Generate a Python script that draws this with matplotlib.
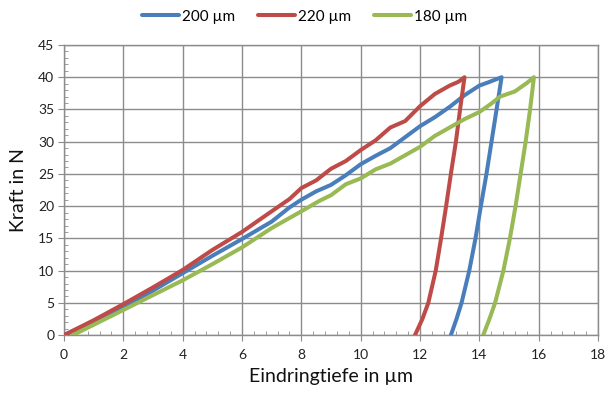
import matplotlib
matplotlib.use("Agg")
import matplotlib.pyplot as plt
from matplotlib.ticker import MultipleLocator

plt.rcParams['font.family'] = ['Lato', 'DejaVu Sans']

labels = ["200 µm", "220 µm", "180 µm"]
colors = ["#4a7ebb", "#be4b48", "#98b954"]

# 200 µm: loading then unloading
x_200 = [0, 1, 2, 3, 4, 5, 6, 7, 7.6, 8.0, 8.5, 9.0, 9.5, 10.0, 10.5, 11.0,
         11.5, 12.0, 12.5, 13.0, 13.5, 14.0, 14.3, 14.75,
         14.58, 14.41, 14.24, 14.05, 13.87, 13.66, 13.40, 13.23, 13.04]
y_200 = [0, 2.1, 4.4, 6.9, 9.6, 12.3, 14.9, 17.6, 19.8, 21.0, 22.3, 23.3, 24.8,
         26.5, 27.8, 29.0, 30.7, 32.4, 33.8, 35.4, 37.2, 38.7, 39.2, 40.0,
         35, 30, 25, 20, 15, 10, 5, 2.5, 0]

# 220 µm
x_220 = [0, 1, 2, 3, 4, 5, 6, 7, 7.6, 8.0, 8.5, 9.0, 9.5, 10.0, 10.5, 11.0,
         11.5, 12.0, 12.5, 13.0, 13.3, 13.5,
         13.35, 13.21, 13.04, 12.88, 12.71, 12.53, 12.28, 12.08, 11.83]
y_220 = [0, 2.3, 4.8, 7.4, 10.1, 13.2, 16.0, 19.2, 21.1, 22.8, 24.0, 25.8,
         27.0, 28.7, 30.2, 32.2, 33.2, 35.5, 37.4, 38.7, 39.3, 40.0,
         35, 30, 25, 20, 15, 10, 5, 2.5, 0]

# 180 µm
x_180 = [0.3, 1, 2, 3, 4, 5, 6, 7, 8.0, 8.6, 9.0, 9.5, 10.0, 10.5, 11.0, 11.5,
         12.0, 12.5, 13.0, 13.5, 14.0, 14.4, 14.7, 15.2, 15.6, 15.84,
         15.71, 15.56, 15.39, 15.22, 15.03, 14.81, 14.53, 14.34, 14.13]
y_180 = [0, 1.6, 3.9, 6.2, 8.5, 11.0, 13.6, 16.6, 19.2, 20.8, 21.7, 23.4,
         24.3, 25.7, 26.6, 27.9, 29.2, 30.9, 32.2, 33.5, 34.6, 35.9, 37.0,
         37.8, 39.1, 40.0,
         35, 30, 25, 20, 15, 10, 5, 2.5, 0]

series = [(x_200, y_200), (x_220, y_220), (x_180, y_180)]

fig = plt.figure(figsize=(6.09, 3.98), dpi=100)
ax = fig.add_axes([0.105, 0.158, 0.877, 0.729])

for (xs, ys), lab, col in zip(series, labels, colors):
    ax.plot(xs, ys, color=col, lw=2.9, label=lab, solid_joinstyle='round',
            solid_capstyle='round', zorder=3)

ax.set_xlim(0, 18)
ax.set_ylim(0, 45)
ax.xaxis.set_major_locator(MultipleLocator(2))
ax.xaxis.set_minor_locator(MultipleLocator(0.4))
ax.yaxis.set_major_locator(MultipleLocator(5))
ax.yaxis.set_minor_locator(MultipleLocator(1))

grid_col = "#8c8c8c"
ax.grid(True, which='major', color=grid_col, lw=1.0, zorder=0)
for s in ax.spines.values():
    s.set_color(grid_col)
    s.set_linewidth(1.0)

ax.tick_params(which='major', direction='out', length=4, color=grid_col,
               labelsize=10, labelcolor='#222222', pad=3)
ax.tick_params(which='minor', direction='in', length=3, color=grid_col)
ax.tick_params(axis='x', which='major', pad=6)

ax.set_xlabel("Eindringtiefe in µm", fontsize=14, color='#111111', labelpad=5)
ax.set_ylabel("Kraft in N", fontsize=14, color='#111111', labelpad=8)

fig.legend(loc='upper center', bbox_to_anchor=(0.5, 1.01), ncol=3,
           frameon=False, fontsize=11, handlelength=2.4, handletextpad=0.2,
           columnspacing=1.5)

fig.savefig("out.png", dpi=100)
